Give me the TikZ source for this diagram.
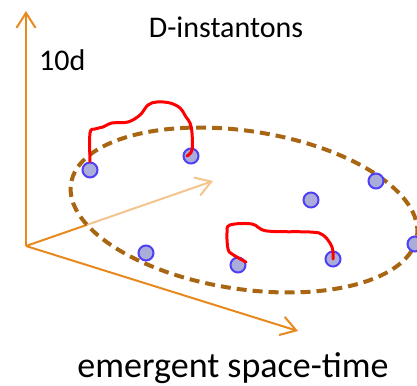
\documentclass[tikz,border=0pt]{standalone}
\usepackage{fontspec}
\setmainfont{Carlito}
\usetikzlibrary{arrows.meta}
\definecolor{caxis}{RGB}{232,137,30}
\definecolor{cring}{RGB}{168,102,18}
\definecolor{cdot}{RGB}{170,172,218}
\definecolor{cdotline}{RGB}{80,64,245}
\tikzset{
  sketch/.style={x=1pt,y=-1pt},
  axis/.style={caxis,line width=2pt,-{Straight Barb[length=15pt,width=19pt]}},
  ring/.style={cring,line width=4pt,dash pattern=on 10pt off 6pt},
  instanton/.style={circle,draw=cdotline,fill=cdot,line width=2pt,minimum size=15pt,inner sep=0pt},
  string/.style={red,line width=3pt,line cap=round,line join=round},
  tag/.style={inner sep=0pt,anchor=base,font=\fontsize{30}{36}\selectfont},
}

\begin{document}
\begin{tikzpicture}[sketch]
    \useasboundingbox (0,0) rectangle (417,385);
    \clip (0,0) rectangle (417,385);
    \coordinate (o) at (26,246);
    \coordinate (up) at (26,11);
    \coordinate (depth) at (213,181);
    \coordinate (across) at (298,331);
    \draw[axis] (o) -- (up);
    \draw[axis] (o) -- (across);
    \draw[axis] (o) -- (depth);
    % half-transparent sheet, the depth axis fades behind it
    \draw[ring,fill=white,fill opacity=0.5,rotate around={-8.7:(244,210)}] (244,210) ellipse [x radius=175,y radius=79];
    \node[instanton] (d1) at (90,170) {};
    \node[instanton] (d2) at (191,156) {};
    \node[instanton] (d3) at (376,181) {};
    \node[instanton] (d4) at (311,200) {};
    \node[instanton] (d5) at (146,253) {};
    \node[instanton] (d6) at (238,265) {};
    \node[instanton] (d7) at (333,259) {};
    \node[instanton] (d8) at (415,244) {};
    \coordinate (s1end) at ([xshift=-4pt]d2.center);
    \draw[string] plot[smooth,tension=0.6] coordinates {(d1.north) (90,133) (95,129) (103,127) (112,123) (128,122) (140,115) (148,105) (157,102) (170,103) (180,108) (186,117) (190,123) (192,133) (192,150) (s1end)};
    \draw[string] plot[smooth,tension=0.6] coordinates {(d6.20) (232,254) (228,249) (227,233) (230,225) (252,224) (267,231) (310,232) (323,235) (332,247) (d7.center)};
    \node[tag] (title) at (226,38) {D-instantons};
    \node[tag,anchor=base west] (dim) at (39,71) {10d};
    \node[tag,font=\fontsize{36}{43}\selectfont] (emerge) at (233,377) {emergent space-time};
\end{tikzpicture}
\end{document}
